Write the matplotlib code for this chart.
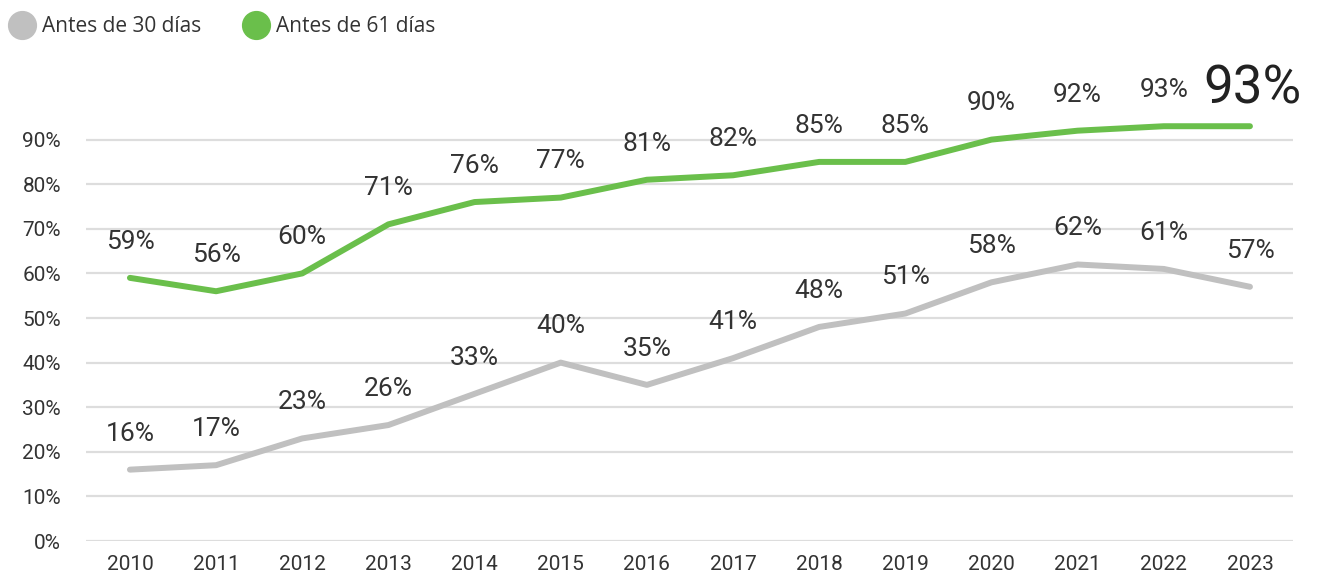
import matplotlib
matplotlib.use('Agg')
import matplotlib.pyplot as plt
from matplotlib.lines import Line2D

years = [2010, 2011, 2012, 2013, 2014, 2015, 2016, 2017, 2018, 2019, 2020, 2021, 2022, 2023]
antes_30 = [16, 17, 23, 26, 33, 40, 35, 41, 48, 51, 58, 62, 61, 57]
antes_61 = [59, 56, 60, 71, 76, 77, 81, 82, 85, 85, 90, 92, 93, 93]
y_ticks = [0, 10, 20, 30, 40, 50, 60, 70, 80, 90]

gray = '#c0c0c0'
green = '#6abf4b'
text_col = '#333333'

plt.rcParams['font.family'] = ['Roboto', 'DejaVu Sans']

fig = plt.figure(figsize=(13.17, 5.85), dpi=100)
ax = fig.add_axes([0.0653, 0.0752, 0.9165, 0.7624])

ax.plot(years, antes_30, color=gray, lw=4.3, solid_capstyle='round', solid_joinstyle='round', zorder=3)
ax.plot(years, antes_61, color=green, lw=4.3, solid_capstyle='round', solid_joinstyle='round', zorder=3)

for yr, v in zip(years, antes_30):
    ax.annotate(f'{v}%', (yr, v), xytext=(0, 26), textcoords='offset points',
                ha='center', va='center', fontsize=19, color=text_col)

for i, (yr, v) in enumerate(zip(years, antes_61)):
    if i == len(years) - 1:
        ax.annotate(f'{v}%', (yr, v), xytext=(2, 27), textcoords='offset points',
                    ha='center', va='center', fontsize=38, color='#222222')
    else:
        ax.annotate(f'{v}%', (yr, v), xytext=(0, 26), textcoords='offset points',
                    ha='center', va='center', fontsize=19, color=text_col)

ax.set_xlim(2009.49, 2023.5)
ax.set_ylim(0, 100)
ax.set_xticks(years)
ax.set_xticklabels([str(y) for y in years])
ax.set_yticks(y_ticks)
ax.set_yticklabels([f'{t}%' for t in y_ticks])
ax.tick_params(axis='both', length=0, labelsize=15, colors=text_col)
ax.tick_params(axis='y', pad=18)
ax.tick_params(axis='x', pad=10)
ax.grid(axis='y', color='#dddddd', lw=1.6, zorder=0)
for s in ax.spines.values():
    s.set_visible(False)

handles = [
    Line2D([], [], marker='o', ls='', markersize=20, color=gray, label='Antes de 30 días'),
    Line2D([], [], marker='o', ls='', markersize=20, color=green, label='Antes de 61 días'),
]
leg = fig.legend(handles=handles, loc='upper left', bbox_to_anchor=(-0.008, 1.005), ncol=2,
                 frameon=False, handletextpad=0.3, columnspacing=2.0, handlelength=1.3,
                 prop={'family': ['Open Sans', 'DejaVu Sans'], 'size': 15})
for t in leg.get_texts():
    t.set_color(text_col)

fig.savefig('out.png', dpi=100)
